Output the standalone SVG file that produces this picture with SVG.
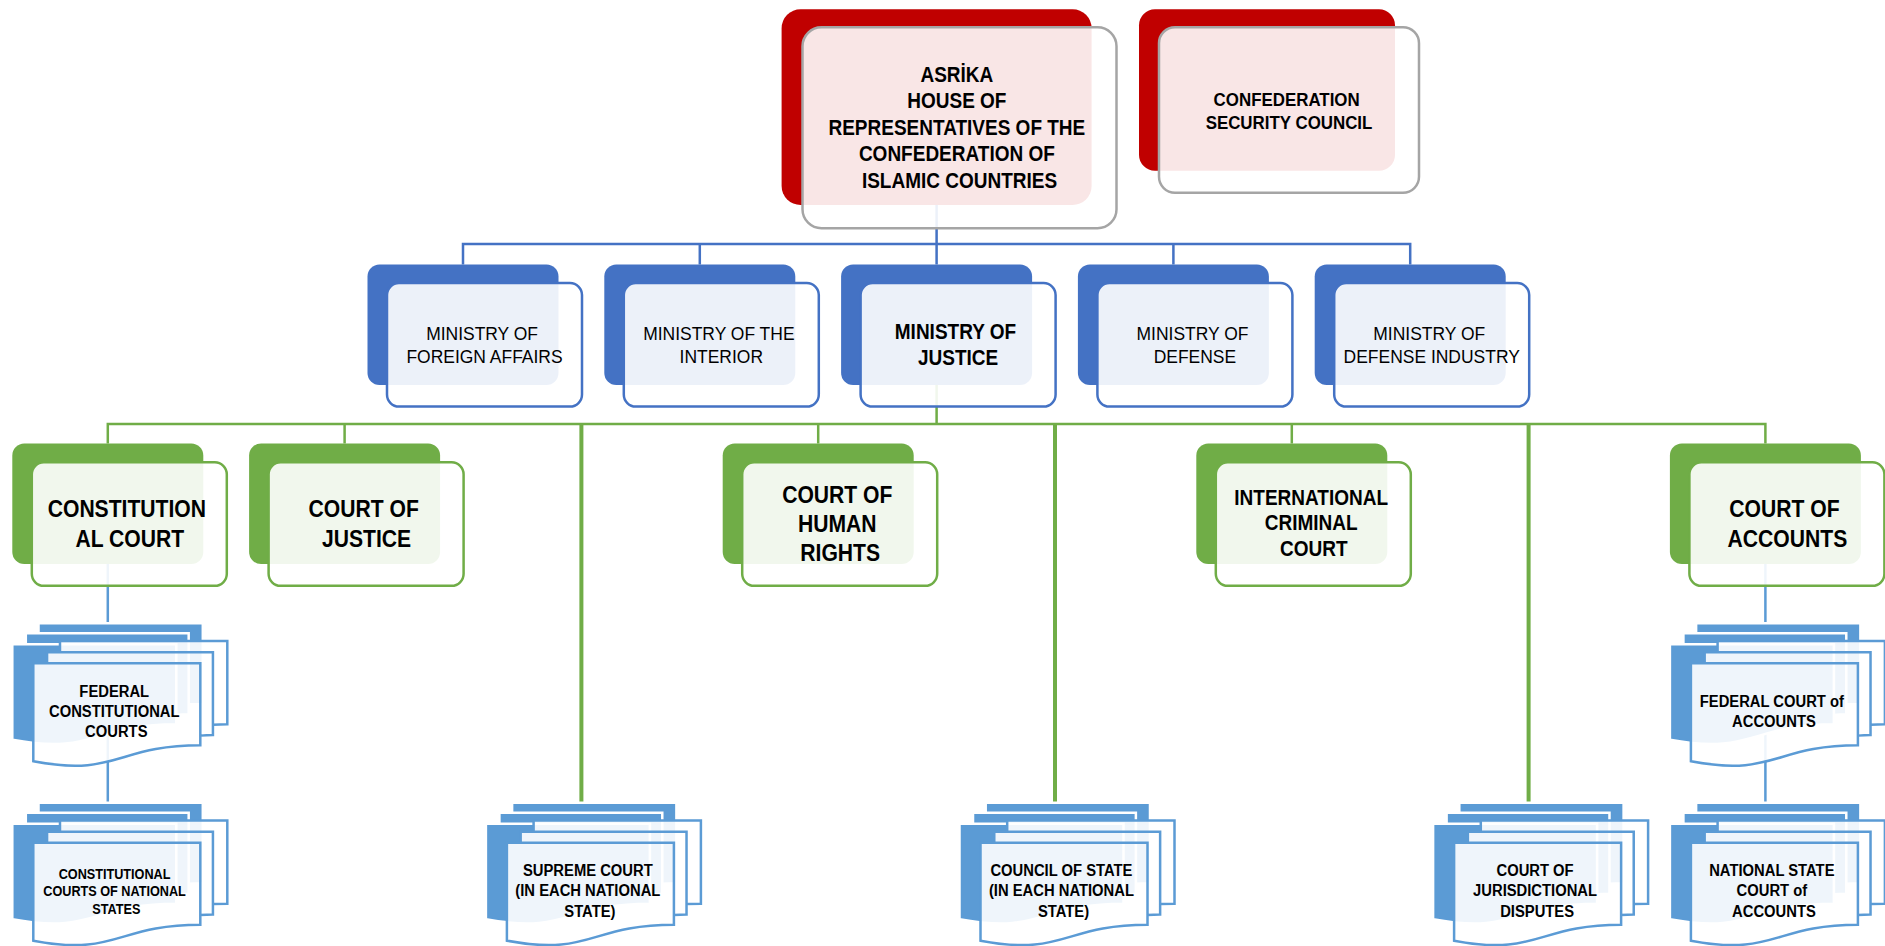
<svg xmlns="http://www.w3.org/2000/svg" width="1885" height="946" viewBox="0 0 1885 946">
  <style>
    .t { font-family: "Liberation Sans", Arial, sans-serif; fill: #000; text-anchor: middle; }
    .b { font-weight: bold; }
    .red { fill: #c00000; }
    .blue { fill: #4472c4; }
    .green { fill: #70ad47; }
    .fr { fill: #fff; fill-opacity: 0.9; stroke-width: 2.5; }
    .fr-gray { stroke: #a5a5a5; }
    .fr-blue { stroke: #4472c4; }
    .fr-green { stroke: #70ad47; }
    .ln { fill: none; stroke-width: 2.5; }
    .ln-blue { stroke: #4472c4; }
    .ln-green { stroke: #70ad47; }
    .ln-green-thick { stroke: #70ad47; stroke-width: 4; }
    .ln-doc { stroke: #5b9bd5; }
  </style>
  <defs>
    <!-- stacked documents, filled layer behind -->
    <g id="docBack">
      <path fill="#5b9bd5" d="M0,21 H164 V100.96 C82,100.96 82,131.88 0,116.42 Z M13.51,21 V10 H176.38 V91.04 C170.2,91.04 164,91.6 164,91.6 V21 Z M26.21,10 V0 H190.5 V80.62 C183.45,80.62 176.38,81.04 176.38,81.04 V10 Z"/>
      <path fill="none" stroke="#fff" stroke-width="2.5" d="M0,116.42 C82,131.88 82,100.96 164,100.96 V21 H0 Z M13.51,21 V10 H176.38 V91.04 C170.2,91.04 164,91.6 164,91.6 M26.21,10 V0 H190.5 V80.62 C183.45,80.62 176.38,81.04 176.38,81.04"/>
    </g>
    <!-- stacked documents, translucent outlined layer in front -->
    <g id="docFront">
      <path fill="#fff" fill-opacity="0.9" d="M0,22.3 H167.01 V104.3 C83.51,104.3 83.51,136.24 0,120.27 Z M13.76,22.3 V11.3 H179.63 V94.05 C173.32,94.05 167.01,94.63 167.01,94.63 V22.3 Z M26.69,11.3 V0 H194 V83.29 C186.81,83.29 179.63,83.72 179.63,83.72 V11.3 Z"/>
      <path fill="none" stroke="#5b9bd5" stroke-width="2.5" d="M0,120.27 C83.51,136.24 83.51,104.3 167.01,104.3 V22.3 H0 Z M13.76,22.3 V11.3 H179.63 V94.05 C173.32,94.05 167.01,94.63 167.01,94.63 M26.69,11.3 V0 H194 V83.29 C186.81,83.29 179.63,83.72 179.63,83.72"/>
    </g>
  </defs>

  <rect width="1885" height="946" fill="#fff"/>

  <!-- connectors -->
  <g id="connectors">
    <path class="ln ln-blue" d="M936.6,205 V264.5 M463,264.5 V244 H1410.2 V264.5 M699.8,244 V264.5 M1173.4,244 V264.5"/>
    <path class="ln ln-green" d="M936.6,385 V424 M107.8,443.5 V424 H1765.4 V443.5 M344.6,424 V443.5 M818.2,424 V443.5 M1291.8,424 V443.5"/>
    <path class="ln ln-green-thick" d="M581.4,424 V812 M1055,424 V812 M1528.6,424 V812"/>
    <path class="ln ln-doc" d="M107.8,564 V802.7 M1765.4,564 V802.7"/>
  </g>

  <!-- top level -->
  <g id="house">
    <rect class="red" x="781.6" y="9.3" width="310" height="195.7" rx="19"/>
    <rect class="fr fr-gray" x="802.5" y="27.3" width="314" height="201" rx="19"/>
    <text class="t b" font-size="21.6" transform="translate(959.5 0) scale(0.88 1)">
      <tspan x="0" y="81.7">ASRİKA</tspan>
      <tspan x="0" y="108.3">HOUSE OF</tspan>
      <tspan x="0" y="134.9">REPRESENTATIVES OF THE</tspan>
      <tspan x="0" y="161.5">CONFEDERATION OF</tspan>
      <tspan x="0" y="188.1">ISLAMIC COUNTRIES</tspan>
    </text>
  </g>
  <g id="security-council">
    <rect class="red" x="1139" y="9.3" width="256" height="161.4" rx="16"/>
    <rect class="fr fr-gray" x="1159" y="27.3" width="260" height="165.4" rx="16"/>
    <text class="t b" font-size="19.2" transform="translate(1289 0) scale(0.88 1)">
      <tspan x="0" y="106">CONFEDERATION</tspan>
      <tspan x="0" y="129.3">SECURITY COUNCIL</tspan>
    </text>
  </g>

  <!-- ministries -->
  <g id="ministry-foreign">
    <rect class="blue" x="367.5" y="264.5" width="191" height="120.5" rx="12"/>
    <rect class="fr fr-blue" x="387" y="283.1" width="195" height="123.5" rx="12"/>
    <text class="t" font-size="19.2" transform="translate(484.5 0) scale(0.91 1)">
      <tspan x="0" y="340">MINISTRY OF</tspan>
      <tspan x="0" y="363.5">FOREIGN AFFAIRS</tspan>
    </text>
  </g>
  <g id="ministry-interior">
    <rect class="blue" x="604.3" y="264.5" width="191" height="120.5" rx="12"/>
    <rect class="fr fr-blue" x="623.8" y="283.1" width="195" height="123.5" rx="12"/>
    <text class="t" font-size="19.2" transform="translate(721.3 0) scale(0.91 1)">
      <tspan x="0" y="340">MINISTRY OF THE</tspan>
      <tspan x="0" y="363.5">INTERIOR</tspan>
    </text>
  </g>
  <g id="ministry-justice">
    <rect class="blue" x="841.1" y="264.5" width="191" height="120.5" rx="12"/>
    <rect class="fr fr-blue" x="860.6" y="283.1" width="195" height="123.5" rx="12"/>
    <text class="t b" font-size="21.6" transform="translate(958.1 0) scale(0.88 1)">
      <tspan x="0" y="339.5">MINISTRY OF</tspan>
      <tspan x="0" y="365">JUSTICE</tspan>
    </text>
  </g>
  <g id="ministry-defense">
    <rect class="blue" x="1077.9" y="264.5" width="191" height="120.5" rx="12"/>
    <rect class="fr fr-blue" x="1097.4" y="283.1" width="195" height="123.5" rx="12"/>
    <text class="t" font-size="19.2" transform="translate(1194.9 0) scale(0.91 1)">
      <tspan x="0" y="340">MINISTRY OF</tspan>
      <tspan x="0" y="363.5">DEFENSE</tspan>
    </text>
  </g>
  <g id="ministry-defense-industry">
    <rect class="blue" x="1314.7" y="264.5" width="191" height="120.5" rx="12"/>
    <rect class="fr fr-blue" x="1334.2" y="283.1" width="195" height="123.5" rx="12"/>
    <text class="t" font-size="19.2" transform="translate(1431.7 0) scale(0.91 1)">
      <tspan x="0" y="340">MINISTRY OF</tspan>
      <tspan x="0" y="363.5">DEFENSE INDUSTRY</tspan>
    </text>
  </g>

  <!-- courts -->
  <g id="court-constitutional">
    <rect class="green" x="12.3" y="443.5" width="191" height="120.5" rx="12"/>
    <rect class="fr fr-green" x="31.8" y="462.3" width="195" height="123.5" rx="12"/>
    <text class="t b" font-size="24" transform="translate(129.8 0) scale(0.88 1)">
      <tspan x="0" y="517.3">CONSTITUTION</tspan>
      <tspan x="0" y="547.3">AL COURT</tspan>
    </text>
  </g>
  <g id="court-justice">
    <rect class="green" x="249.1" y="443.5" width="191" height="120.5" rx="12"/>
    <rect class="fr fr-green" x="268.6" y="462.3" width="195" height="123.5" rx="12"/>
    <text class="t b" font-size="24" transform="translate(366.6 0) scale(0.88 1)">
      <tspan x="0" y="517.3">COURT OF</tspan>
      <tspan x="0" y="547.3">JUSTICE</tspan>
    </text>
  </g>
  <g id="court-human-rights">
    <rect class="green" x="722.7" y="443.5" width="191" height="120.5" rx="12"/>
    <rect class="fr fr-green" x="742.2" y="462.3" width="195" height="123.5" rx="12"/>
    <text class="t b" font-size="24" transform="translate(840.2 0) scale(0.88 1)">
      <tspan x="0" y="502.7">COURT OF</tspan>
      <tspan x="0" y="531.7">HUMAN</tspan>
      <tspan x="0" y="560.7">RIGHTS</tspan>
    </text>
  </g>
  <g id="court-international-criminal">
    <rect class="green" x="1196.3" y="443.5" width="191" height="120.5" rx="12"/>
    <rect class="fr fr-green" x="1215.8" y="462.3" width="195" height="123.5" rx="12"/>
    <text class="t b" font-size="21.6" transform="translate(1313.8 0) scale(0.88 1)">
      <tspan x="0" y="505">INTERNATIONAL</tspan>
      <tspan x="0" y="530.5">CRIMINAL</tspan>
      <tspan x="0" y="556">COURT</tspan>
    </text>
  </g>
  <g id="court-accounts">
    <rect class="green" x="1669.9" y="443.5" width="191" height="120.5" rx="12"/>
    <rect class="fr fr-green" x="1689.4" y="462.3" width="195" height="123.5" rx="12"/>
    <text class="t b" font-size="24" transform="translate(1787.4 0) scale(0.88 1)">
      <tspan x="0" y="516.7">COURT OF</tspan>
      <tspan x="0" y="546.7">ACCOUNTS</tspan>
    </text>
  </g>

  <!-- document stacks -->
  <g id="federal-constitutional-courts">
    <use href="#docBack" x="12.3" y="623.3"/>
    <use href="#docFront" x="33.3" y="641"/>
    <text class="t b" font-size="16.8" transform="translate(116.3 0) scale(0.88 1)">
      <tspan x="0" y="696.7">FEDERAL</tspan>
      <tspan x="0" y="716.7">CONSTITUTIONAL</tspan>
      <tspan x="0" y="736.7">COURTS</tspan>
    </text>
  </g>
  <g id="federal-court-of-accounts">
    <use href="#docBack" x="1669.9" y="623.3"/>
    <use href="#docFront" x="1690.9" y="641"/>
    <text class="t b" font-size="16.8" transform="translate(1773.9 0) scale(0.88 1)">
      <tspan x="0" y="707.5">FEDERAL COURT of</tspan>
      <tspan x="0" y="727.5">ACCOUNTS</tspan>
    </text>
  </g>
  <g id="constitutional-courts-national">
    <use href="#docBack" x="12.3" y="802.7"/>
    <use href="#docFront" x="33.3" y="820.4"/>
    <text class="t b" font-size="14.4" transform="translate(116.3 0) scale(0.88 1)">
      <tspan x="0" y="879">CONSTITUTIONAL</tspan>
      <tspan x="0" y="896.3">COURTS OF NATIONAL</tspan>
      <tspan x="0" y="913.6">STATES</tspan>
    </text>
  </g>
  <g id="supreme-court">
    <use href="#docBack" x="485.9" y="802.7"/>
    <use href="#docFront" x="506.9" y="820.4"/>
    <text class="t b" font-size="16.8" transform="translate(589.9 0) scale(0.88 1)">
      <tspan x="0" y="875.8">SUPREME COURT</tspan>
      <tspan x="0" y="896.3">(IN EACH NATIONAL</tspan>
      <tspan x="0" y="916.8">STATE)</tspan>
    </text>
  </g>
  <g id="council-of-state">
    <use href="#docBack" x="959.5" y="802.7"/>
    <use href="#docFront" x="980.5" y="820.4"/>
    <text class="t b" font-size="16.8" transform="translate(1063.5 0) scale(0.88 1)">
      <tspan x="0" y="875.8">COUNCIL OF STATE</tspan>
      <tspan x="0" y="896.3">(IN EACH NATIONAL</tspan>
      <tspan x="0" y="916.8">STATE)</tspan>
    </text>
  </g>
  <g id="jurisdictional-disputes">
    <use href="#docBack" x="1433.1" y="802.7"/>
    <use href="#docFront" x="1454.1" y="820.4"/>
    <text class="t b" font-size="16.8" transform="translate(1537.1 0) scale(0.88 1)">
      <tspan x="0" y="875.8">COURT OF</tspan>
      <tspan x="0" y="896.3">JURISDICTIONAL</tspan>
      <tspan x="0" y="916.8">DISPUTES</tspan>
    </text>
  </g>
  <g id="national-court-of-accounts">
    <use href="#docBack" x="1669.9" y="802.7"/>
    <use href="#docFront" x="1690.9" y="820.4"/>
    <text class="t b" font-size="16.8" transform="translate(1773.9 0) scale(0.88 1)">
      <tspan x="0" y="875.8">NATIONAL STATE</tspan>
      <tspan x="0" y="896.3">COURT of</tspan>
      <tspan x="0" y="916.8">ACCOUNTS</tspan>
    </text>
  </g>
</svg>
